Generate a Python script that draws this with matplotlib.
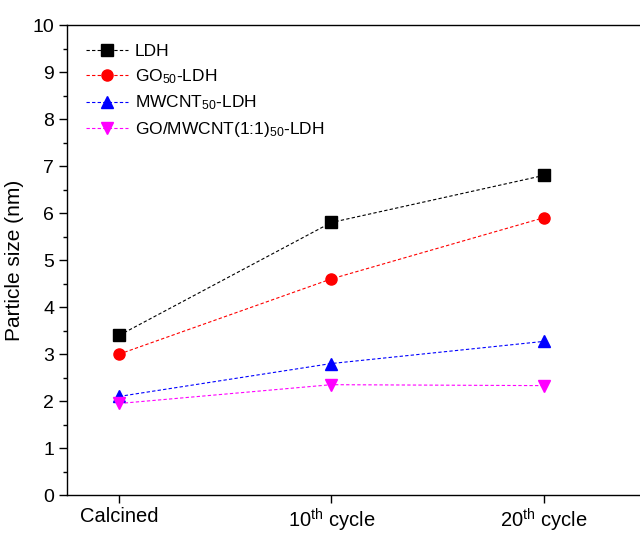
import numpy as np
import matplotlib
matplotlib.use("Agg")
import matplotlib.pyplot as plt
from matplotlib.ticker import MultipleLocator

plt.rcParams['font.family'] = ['Liberation Sans', 'DejaVu Sans']
plt.rcParams['mathtext.fontset'] = 'custom'
plt.rcParams['mathtext.rm'] = 'Liberation Sans'
plt.rcParams['mathtext.it'] = 'Liberation Sans'

# data
stages = ['Calcined', '10$^{th}$ cycle', '20$^{th}$ cycle']
ldh = [3.4, 5.8, 6.8]
go_ldh = [3.0, 4.6, 5.9]
mwcnt_ldh = [2.1, 2.8, 3.27]
go_mwcnt_ldh = [1.95, 2.35, 2.33]

names = ['LDH', 'GO$_{50}$-LDH', 'MWCNT$_{50}$-LDH', 'GO/MWCNT(1:1)$_{50}$-LDH']
colors = ['black', 'red', 'blue', 'magenta']
markers = ['s', 'o', '^', 'v']

fig = plt.figure(figsize=(6.4, 5.33), dpi=100)
ax = fig.add_axes([0.105, 0.071, 0.91, 0.882])

x = np.arange(len(stages))
for ys, name, c, m in zip([ldh, go_ldh, mwcnt_ldh, go_mwcnt_ldh], names, colors, markers):
    ax.plot(x, ys, linestyle='--', dashes=(3, 2), lw=0.8, color=c, marker=m,
            markersize=8, markeredgecolor=c, label=name)

ax.set_xlim(-0.245, 2.5)
ax.set_ylim(0, 10)
ax.set_xticks(x)
ax.set_xticklabels(stages)
ax.yaxis.set_major_locator(MultipleLocator(1))
ax.yaxis.set_minor_locator(MultipleLocator(0.5))
ax.tick_params(axis='both', which='major', direction='out', length=6, width=1, labelsize=14)
ax.tick_params(axis='x', which='major', labelsize=14.5, pad=2.5)
ax.tick_params(axis='y', which='minor', direction='out', length=3, width=1)
ax.set_ylabel('Particle size (nm)', fontsize=15, labelpad=6)
for s in ax.spines.values():
    s.set_linewidth(1)

ax.legend(loc='upper left', frameon=False, fontsize=12.5, handlelength=2.4,
          handletextpad=0.4, labelspacing=0.45, borderaxespad=0.7)

fig.savefig('out.png', dpi=100)
